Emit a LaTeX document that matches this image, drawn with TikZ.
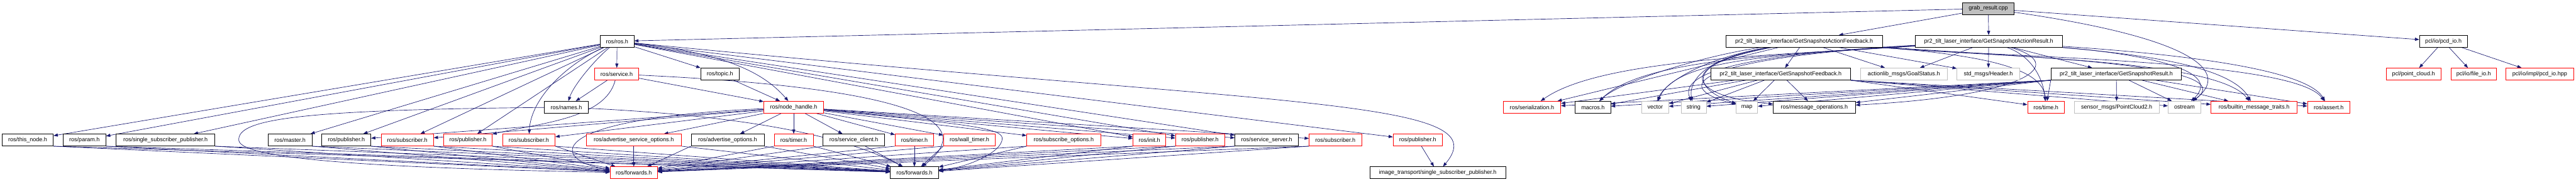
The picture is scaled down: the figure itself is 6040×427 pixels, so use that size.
\documentclass[tikz,border=0pt]{standalone}
\usepackage{fontspec}
\setmainfont{Liberation Sans}
\usepackage{tikz}
\usetikzlibrary{arrows.meta, backgrounds}
\usepackage{xcolor}
\definecolor{edgeblue}{HTML}{191970}
\definecolor{hdrred}{HTML}{FF0000}
\definecolor{hdrgray}{HTML}{BFBFBF}

\begin{document}
\begin{tikzpicture}[x=0.75pt, y=-0.75pt, >={Triangle[length=7.5pt,width=5.5pt]},
    hdr/.style={draw=black, fill=white, rectangle, line width=0.8pt, minimum width=#1*0.75pt, minimum height=21pt, inner sep=1pt, font=\fontsize{10}{12}\selectfont},
    redhdr/.style={hdr=#1, draw=hdrred},
    syshdr/.style={hdr=#1, draw=hdrgray},
    dep/.style={->, draw=edgeblue, line width=0.75pt}]
      \useasboundingbox (0,0) rectangle (6040,427);

      \node [hdr=121, fill=hdrgray] (grab) at (4662,20) {grab\_result.cpp};

      \node [hdr=79] (ros) at (1447,97) {ros/ros.h};
      \node [hdr=367] (afb) at (4230,97) {pr2\_tilt\_laser\_interface/GetSnapshotActionFeedback.h};
      \node [hdr=345] (arr) at (4663,97) {pr2\_tilt\_laser\_interface/GetSnapshotActionResult.h};
      \node [hdr=112] (pcdio) at (5729,97) {pcl/io/pcd\_io.h};

      \node [redhdr=103] (service) at (1446,174) {ros/service.h};
      \node [hdr=90] (topic) at (1688,174) {ros/topic.h};
      \node [hdr=327] (fb) at (4175,174) {pr2\_tilt\_laser\_interface/GetSnapshotFeedback.h};
      \node [syshdr=204] (goal) at (4464,174) {actionlib\_msgs/GoalStatus.h};
      \node [syshdr=147] (header) at (4662,174) {std\_msgs/Header.h};
      \node [hdr=306] (res) at (4962,174) {pr2\_tilt\_laser\_interface/GetSnapshotResult.h};
      \node [redhdr=129] (pcloud) at (5659,174) {pcl/point\_cloud.h};
      \node [redhdr=106] (fileio) at (5800,174) {pcl/io/file\_io.h};
      \node [redhdr=159] (pcdhpp) at (5955,174) {pcl/io/impl/pcd\_io.hpp};

      \node [hdr=103] (names) at (1328,252) {ros/names.h};
      \node [redhdr=140] (nodehandle) at (1861,252) {ros/node\_handle.h};
      \node [redhdr=135] (serial) at (3592,252) {ros/serialization.h};
      \node [hdr=83] (macros) at (3735,252) {macros.h};
      \node [syshdr=63] (vector) at (3881,252) {vector};
      \node [syshdr=59] (string) at (3971,252) {string};
      \node [syshdr=50] (map) at (4096,252) {map};
      \node [hdr=193] (msgops) at (4254,252) {ros/message\_operations.h};
      \node [redhdr=86] (time) at (4797,252) {ros/time.h};
      \node [syshdr=199] (pc2) at (4963,252) {sensor\_msgs/PointCloud2.h};
      \node [syshdr=77] (ostream) at (5122,252) {ostream};
      \node [redhdr=202] (traits) at (5285,252) {ros/builtin\_message\_traits.h};
      \node [redhdr=99] (assert) at (5460,252) {ros/assert.h};

      \node [hdr=120] (thisnode) at (65,329) {ros/this\_node.h};
      \node [hdr=100] (param) at (198,329) {ros/param.h};
      \node [hdr=232] (ssp) at (388,329) {ros/single\_subscriber\_publisher.h};
      \node [hdr=103] (master) at (680,329) {ros/master.h};
      \node [hdr=115] (pubA) at (812,329) {ros/publisher.h};
      \node [redhdr=123] (subA) at (955,329) {ros/subscriber.h};
      \node [redhdr=114] (pubB) at (1097,329) {ros/publisher.h};
      \node [redhdr=123] (subB) at (1240,329) {ros/subscriber.h};
      \node [redhdr=223] (advsrv) at (1486,329) {ros/advertise\_service\_options.h};
      \node [hdr=171] (advopt) at (1706,329) {ros/advertise\_options.h};
      \node [redhdr=91] (timerA) at (1861,329) {ros/timer.h};
      \node [hdr=144] (svcclient) at (2002,329) {ros/service\_client.h};
      \node [redhdr=90] (timerB) at (2144,329) {ros/timer.h};
      \node [redhdr=122] (walltimer) at (2273,329) {ros/wall\_timer.h};
      \node [redhdr=173] (subopt) at (2494,329) {ros/subscribe\_options.h};
      \node [redhdr=77] (init) at (2695,329) {ros/init.h};
      \node [redhdr=115] (pubC) at (2814,329) {ros/publisher.h};
      \node [hdr=149] (svcserver) at (2970,329) {ros/service\_server.h};
      \node [redhdr=123] (subC) at (3131,329) {ros/subscriber.h};
      \node [redhdr=115] (pubD) at (3324,329) {ros/publisher.h};

      \node [redhdr=111] (fwdA) at (1486,406) {ros/forwards.h};
      \node [hdr=113] (fwdB) at (2144,406) {ros/forwards.h};
      \node [hdr=318] (itssp) at (3371,406) {image\_transport/single\_subscriber\_publisher.h};

      \begin{scope}[on background layer]
      \draw [dep] (grab) -- (ros);
      \draw [dep] (grab) -- (afb);
      \draw [dep] (grab) -- (arr);
      \draw [dep] (grab) -- (pcdio);
      \draw [dep] (grab) .. controls (5150,90) and (5230,170) .. (ostream);

      \draw [dep] (ros) -- (thisnode);
      \draw [dep] (ros) -- (param);
      \draw [dep] (ros) -- (ssp);
      \draw [dep] (ros) -- (master);
      \draw [dep] (ros) -- (pubA);
      \draw [dep] (ros) -- (subA);
      \draw [dep] (ros) -- (pubB);
      \draw [dep] (ros) .. controls (1330,150) and (1245,230) .. (subB);
      \draw [dep] (ros) -- (service);
      \draw [dep] (ros) .. controls (1395,140) and (1345,200) .. (names);
      \draw [dep] (ros) -- (topic);
      \draw [dep] (ros) .. controls (1700,125) and (1790,170) .. (nodehandle);
      \draw [dep] (ros) -- (init);
      \draw [dep] (ros) -- (pubC);
      \draw [dep] (ros) -- (svcserver);
      \draw [dep] (ros) -- (pubD);
      \draw [dep] (ros) .. controls (3000,250) and (3520,230) .. (itssp);

      \draw [dep] (service) -- (names);
      \draw [dep] (service) -- (nodehandle);
      \draw [dep] (service) .. controls (1420,280) and (1260,290) .. (pubB);
      \draw [dep] (service) .. controls (2000,200) and (2330,260) .. (fwdB);
      \draw [dep] (topic) -- (nodehandle);

      \draw [dep] (names) .. controls (700,258) and (555,280) .. (560,330) .. controls (565,375) and (900,395) .. (fwdA);
      \draw [dep] (names) .. controls (1800,275) and (2000,330) .. (fwdB);

      \draw [dep] (nodehandle) -- (pubA);
      \draw [dep] (nodehandle) -- (subA);
      \draw [dep] (nodehandle) -- (subB);
      \draw [dep] (nodehandle) -- (advsrv);
      \draw [dep] (nodehandle) -- (advopt);
      \draw [dep] (nodehandle) -- (timerA);
      \draw [dep] (nodehandle) -- (svcclient);
      \draw [dep] (nodehandle) -- (timerB);
      \draw [dep] (nodehandle) -- (walltimer);
      \draw [dep] (nodehandle) -- (subopt);
      \draw [dep] (nodehandle) -- (init);
      \draw [dep] (nodehandle) -- (pubC);
      \draw [dep] (nodehandle) -- (svcserver);
      \draw [dep] (nodehandle) -- (subC);
      \draw [dep] (nodehandle) .. controls (1250,280) and (1300,380) .. (fwdA);
      \draw [dep] (nodehandle) .. controls (2250,290) and (2350,300) .. (2350,325) .. controls (2350,360) and (2260,395) .. (fwdB);

      \draw [dep] (thisnode.south east) -- (fwdA);
      \draw [dep] (thisnode.south east) -- (fwdB);
      \draw [dep] (param.south east) -- (fwdA);
      \draw [dep] (param.south east) -- (fwdB);
      \draw [dep] (ssp.south east) -- (fwdA);
      \draw [dep] (ssp.south east) -- (fwdB);
      \draw [dep] (master.south east) -- (fwdA);
      \draw [dep] (master.south east) -- (fwdB);
      \draw [dep] (pubA.south east) -- (fwdA);
      \draw [dep] (pubA.south east) -- (fwdB);
      \draw [dep] (subA.south east) -- (fwdA);
      \draw [dep] (subA.south east) -- (fwdB);
      \draw [dep] (pubB.south east) -- (fwdA);
      \draw [dep] (pubB.south east) -- (fwdB);
      \draw [dep] (subB.south east) -- (fwdA);
      \draw [dep] (subB.south east) -- (fwdB);
      \draw [dep] (advsrv) -- (fwdA);
      \draw [dep] (advsrv.south east) -- (fwdB);
      \draw [dep] (advopt.south west) -- (fwdA);
      \draw [dep] (advopt.south east) -- (fwdB);
      \draw [dep] (timerA.south west) -- (fwdA);
      \draw [dep] (timerA.south east) -- (fwdB);
      \draw [dep] (svcclient.south west) -- (fwdA);
      \draw [dep] (svcclient) -- (fwdB);
      \draw [dep] (timerB.south west) -- (fwdA);
      \draw [dep] (timerB) -- (fwdB);
      \draw [dep] (walltimer.south west) -- (fwdA);
      \draw [dep] (walltimer.south west) -- (fwdB);
      \draw [dep] (subopt.south west) -- (fwdA);
      \draw [dep] (subopt.south west) -- (fwdB);
      \draw [dep] (init.south west) -- (fwdA);
      \draw [dep] (init.south west) -- (fwdB);
      \draw [dep] (pubC.south west) -- (fwdA);
      \draw [dep] (pubC.south west) -- (fwdB);
      \draw [dep] (svcserver.south west) -- (fwdA);
      \draw [dep] (svcserver.south west) -- (fwdB);
      \draw [dep] (subC.south west) -- (fwdA);
      \draw [dep] (subC.south west) -- (fwdB);
      \draw [dep] (pubD) -- (itssp);

      \draw [dep] (afb) -- (fb);
      \draw [dep] (afb) -- (goal);
      \draw [dep] (afb) -- (header);
      \draw [dep] (afb) -- (serial);
      \draw [dep] (afb) .. controls (4000,130) and (3800,190) .. (macros);
      \draw [dep] (afb) .. controls (3980,140) and (3900,200) .. (vector);
      \draw [dep] (afb) .. controls (3980,140) and (3960,200) .. (string);
      \draw [dep] (afb) .. controls (3940,150) and (3975,210) .. (map);
      \draw [dep] (afb) .. controls (3900,160) and (3980,230) .. (msgops);
      \draw [dep] (afb) .. controls (4650,130) and (4790,160) .. (time);
      \draw [dep] (afb) .. controls (4750,135) and (5260,150) .. (ostream);
      \draw [dep] (afb) .. controls (4700,135) and (5200,140) .. (traits);
      \draw [dep] (afb) .. controls (4700,135) and (5380,140) .. (assert);

      \draw [dep] (arr) -- (goal);
      \draw [dep] (arr) -- (header);
      \draw [dep] (arr) -- (res);
      \draw [dep] (arr) .. controls (4150,130) and (3750,140) .. (serial);
      \draw [dep] (arr) .. controls (4150,130) and (3850,140) .. (macros);
      \draw [dep] (arr) .. controls (4150,130) and (3930,140) .. (vector);
      \draw [dep] (arr) .. controls (4060,130) and (3940,175) .. (string);
      \draw [dep] (arr) .. controls (4000,135) and (3900,200) .. (map);
      \draw [dep] (arr) .. controls (4850,150) and (4760,225) .. (msgops);
      \draw [dep] (arr) .. controls (4760,130) and (4790,180) .. (time);
      \draw [dep] (arr) .. controls (5000,125) and (5220,160) .. (ostream);
      \draw [dep] (arr) .. controls (4990,125) and (5230,150) .. (traits);
      \draw [dep] (arr) .. controls (5000,120) and (5400,150) .. (assert);

      \draw [dep] (fb) -- (serial);
      \draw [dep] (fb) -- (macros);
      \draw [dep] (fb) -- (vector);
      \draw [dep] (fb) -- (string);
      \draw [dep] (fb) -- (map);
      \draw [dep] (fb) -- (msgops);
      \draw [dep] (fb.south east) -- (time);
      \draw [dep] (fb.south east) -- (ostream);
      \draw [dep] (fb.south east) -- (traits);
      \draw [dep] (fb.south east) -- (assert);

      \draw [dep] (res) -- (pc2);
      \draw [dep] (res.south west) -- (serial);
      \draw [dep] (res.south west) -- (macros);
      \draw [dep] (res.south west) -- (vector);
      \draw [dep] (res.south west) -- (string);
      \draw [dep] (res.south west) -- (map);
      \draw [dep] (res.south west) -- (msgops);
      \draw [dep] (res.south west) -- (time);
      \draw [dep] (res) -- (ostream);
      \draw [dep] (res) -- (traits);
      \draw [dep] (res) -- (assert);

      \draw [dep] (pcdio) -- (pcloud);
      \draw [dep] (pcdio) -- (fileio);
      \draw [dep] (pcdio) -- (pcdhpp);
      \end{scope}
    \end{tikzpicture}
\end{document}
